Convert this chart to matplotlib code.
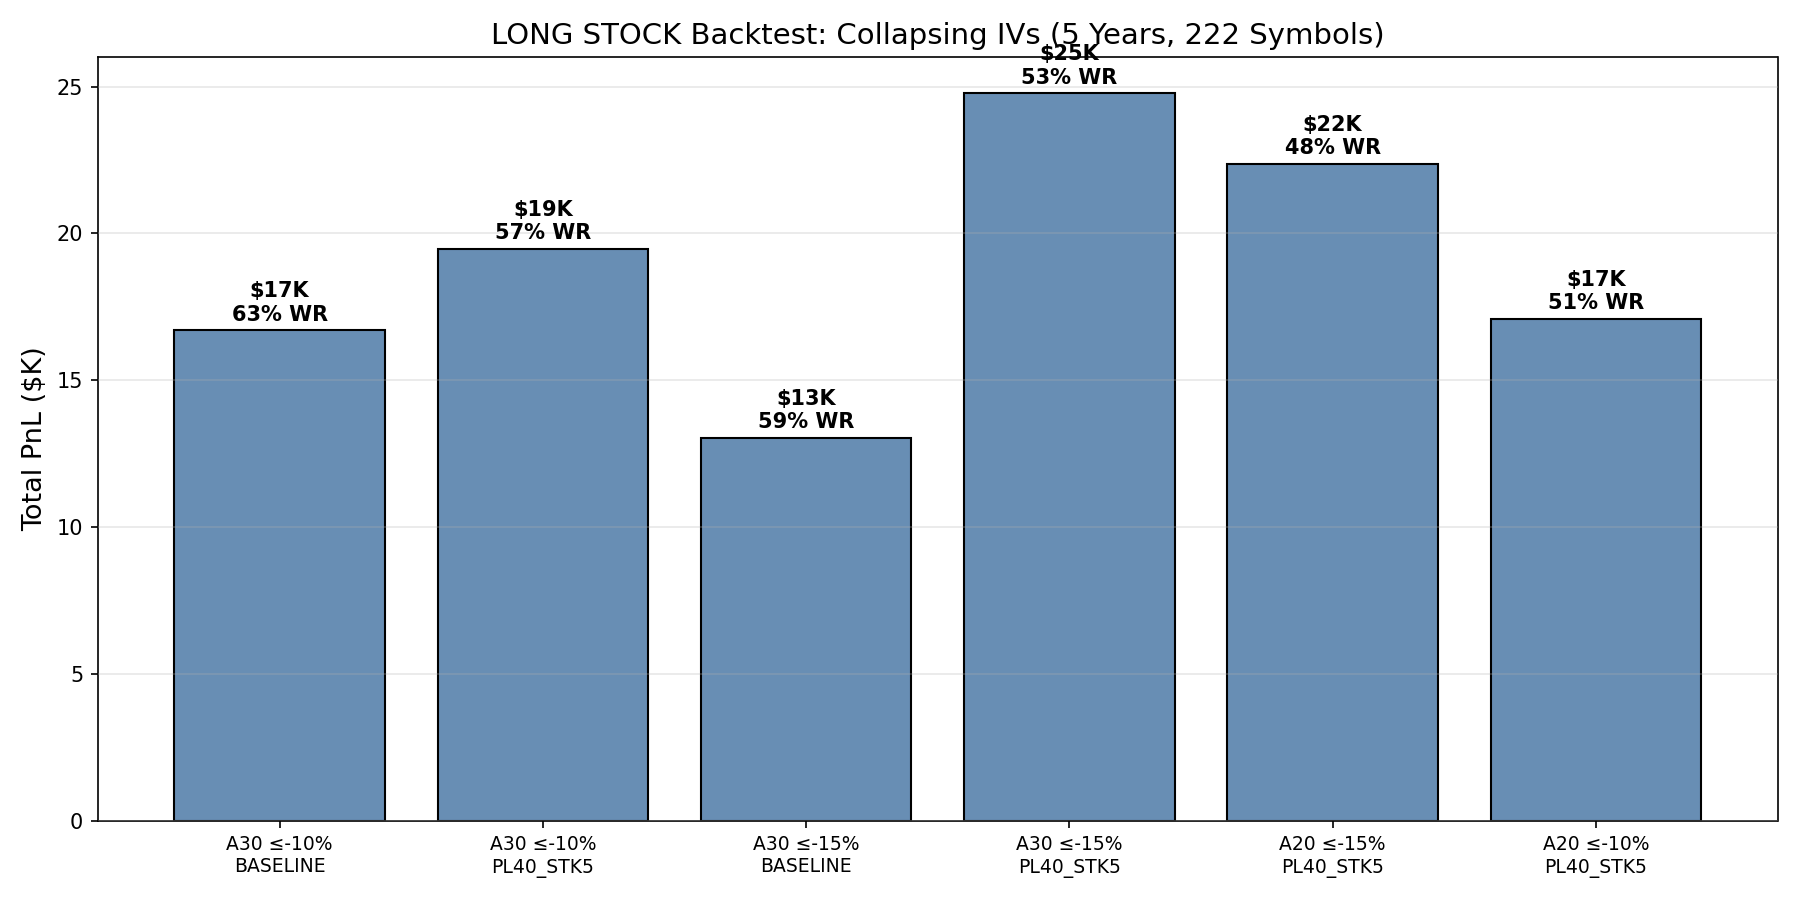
import matplotlib
matplotlib.use("Agg")
import matplotlib.pyplot as plt

categories = ["A30 ≤-10%\nBASELINE", "A30 ≤-10%\nPL40_STK5", "A30 ≤-15%\nBASELINE",
              "A30 ≤-15%\nPL40_STK5", "A20 ≤-15%\nPL40_STK5", "A20 ≤-10%\nPL40_STK5"]
pnl_k = [16.7, 19.48, 13.03, 24.77, 22.38, 17.08]
win_rate = [63, 57, 59, 53, 48, 51]

fig, ax = plt.subplots(figsize=(12, 6), dpi=150)
x = list(range(len(categories)))
bars = ax.bar(x, pnl_k, width=0.8, color="#688EB4", edgecolor="black", linewidth=1)
for b, v, wr in zip(bars, pnl_k, win_rate):
    ax.text(b.get_x() + b.get_width() / 2, b.get_height() + 0.2,
            f"${v:.0f}K\n{wr}% WR", ha="center", va="bottom",
            fontsize=10, fontweight="bold")
ax.set_xticks(x)
ax.set_xticklabels(categories, fontsize=9)
ax.set_ylabel("Total PnL ($K)", fontsize=13)
ax.set_title("LONG STOCK Backtest: Collapsing IVs (5 Years, 222 Symbols)", fontsize=14)
ax.grid(axis="y", alpha=0.3)
ax.set_axisbelow(False)
fig.tight_layout()
fig.savefig("out.png", dpi=150)
